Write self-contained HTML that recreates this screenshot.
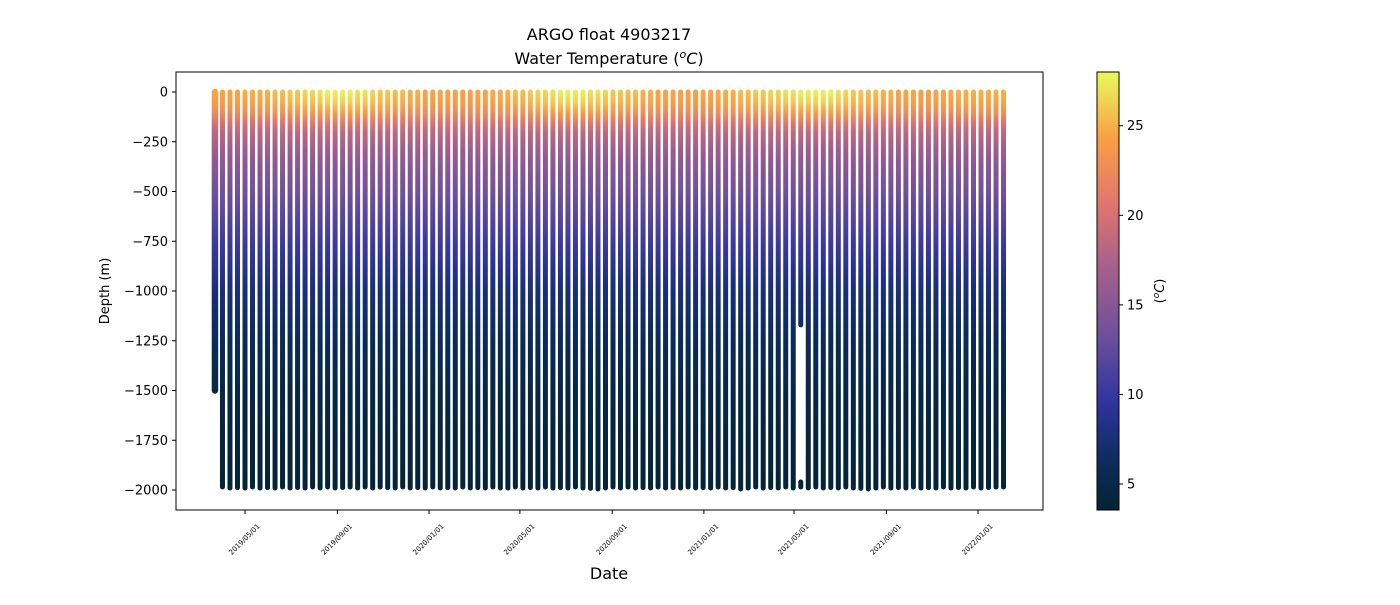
<!DOCTYPE html>
<html><head><meta charset="utf-8"><style>
body{margin:0;background:#fff;}
svg text{font-family:"DejaVu Sans","Liberation Sans",sans-serif;fill:#000;}
</style></head><body>
<svg id="chart" width="1400" height="600" xmlns="http://www.w3.org/2000/svg">
<defs id="defs"></defs>
<rect width="1400" height="600" fill="#fff"/>
<text x="609" y="40" font-size="16" text-anchor="middle">ARGO float 4903217</text>
<text x="609" y="64" font-size="16" text-anchor="middle">Water Temperature (<tspan font-style="italic" font-size="11" dy="-6">o</tspan><tspan font-style="italic" dy="6">C</tspan>)</text>
<g id="profiles"></g>
<rect x="176" y="72" width="867" height="438" fill="none" stroke="#000" stroke-width="1"/>
<g id="yaxis"></g>
<g id="xaxis"></g>
<text transform="translate(109,291) rotate(-90)" font-size="13" text-anchor="middle">Depth (m)</text>
<text x="609" y="579" font-size="16" text-anchor="middle">Date</text>
<rect id="cbar" x="1097" y="72" width="22" height="438" fill="url(#cbgrad)" stroke="#000" stroke-width="1"/>
<g id="cbaxis"></g>
<text transform="translate(1164,291) rotate(-90)" font-size="13" text-anchor="middle">(<tspan font-style="italic" font-size="9" dy="-5">o</tspan><tspan font-style="italic" dy="5">C</tspan>)</text>
</svg>
<script>
// ---- data ----
const startDate = "2019-03-22";
const cycleDays = 10;
const surfaceTemps = [24.5,24.5,24.5,24.5,24.8,25,25,25,25.5,25.5,26,26,26.5,26.5,27,27.5,27.5,27.5,27.5,27,27,26.5,26,26,25.5,25.5,25,25,24.5,24.5,24.5,24.5,24.3,24.3,24.3,24.5,24.5,24.8,25,25,25.5,25.5,26,26.5,26.5,27,27.5,27.5,27.5,27.5,27,27,26.5,26,26,25.5,25.5,25,25,24.5,24.5,24.5,24.3,24.3,24.3,24.5,24.5,24.8,25,25,25.5,25.5,26,26,26.5,26.5,27,27,27.5,27.5,27.5,27.5,27.5,27,26.5,26,26,25.5,25.5,25,25,24.5,24.5,24.5,24.3,24.3,24.5,24.5,24.8,25,25,25,25,25,25,25];
const maxDepths = [1500,1985,1990,1988,1990,1985,1990,1988,1990,1985,1990,1988,1990,1985,1990,1985,1990,1988,1985,1990,1985,1990,1985,1988,1990,1985,1990,1988,1990,1985,1990,1988,1990,1985,1990,1988,1990,1985,1990,1990,1985,1990,1988,1990,1985,1990,1988,1990,1985,1990,1992,1995,1990,1985,1990,1985,1990,1988,1990,1985,1990,1988,1990,1985,1990,1988,1990,1985,1990,1988,1995,1990,1985,1990,1988,1990,1985,1990,1985,1990,1985,1990,1988,1990,1985,1990,1992,1995,1990,1985,1990,1988,1990,1985,1990,1988,1990,1985,1990,1988,1990,1985,1990,1988,1985,1985];
const gapIndex = [78];
const gapTop = [1170];
const gapBottom = [1960];
const shapeDepths = [0,50,100,150,200,300,400,500,600,750,900,1000,1250,1500,1750,2000];
const shapeTemps  = [25,24.5,23,20.5,18.5,16.3,14.8,13.5,12.3,10.4,8.6,7.6,5.9,4.8,4.2,3.8];
const yTicks = [0,-250,-500,-750,-1000,-1250,-1500,-1750,-2000];
const xTickDates = ["2019-05-01","2019-09-01","2020-01-01","2020-05-01","2020-09-01","2021-01-01","2021-05-01","2021-09-01","2022-01-01"];
const cbTicks = [5,10,15,20,25];
// ---- scales ----
const NS="http://www.w3.org/2000/svg";
const day=86400000;
const d0=Date.parse("2019-05-01"), d1=Date.parse("2022-01-01");
const xs=t=>245+(t-d0)/(d1-d0)*733;
const ys=v=>92+(-v)*398/2000;
const tMin=3.55,tMax=28.0;
const cs=t=>510-(t-tMin)/(tMax-tMin)*438;
const cmap=[[0,[4,35,51]],[0.12,[12,45,98]],[0.25,[50,52,160]],[0.4,[110,80,155]],[0.55,[165,95,140]],[0.7,[225,118,108]],[0.85,[249,160,68]],[1,[232,250,91]]];
function color(t){let f=Math.max(0,Math.min(1,(t-tMin)/(tMax-tMin)));for(let i=1;i<cmap.length;i++){if(f<=cmap[i][0]){const a=cmap[i-1],b=cmap[i];const u=(f-a[0])/(b[0]-a[0]);return 'rgb('+a[1].map((c,k)=>Math.round(c+(b[1][k]-c)*u)).join(',')+')';}}return 'rgb(232,250,91)';}
const svg=document.getElementById('chart'),defs=document.getElementById('defs');
function el(n,a,p){const e=document.createElementNS(NS,n);for(const k in a)e.setAttribute(k,a[k]);p.appendChild(e);return e;}
const cg=el('linearGradient',{id:'cbgrad',x1:0,y1:1,x2:0,y2:0},defs);
for(let i=0;i<=20;i++){const t=tMin+(tMax-tMin)*i/20;el('stop',{offset:i/20,'stop-color':color(t)},cg);}
const pg=document.getElementById('profiles');
const t0=Date.parse(startDate);
surfaceTemps.forEach((sT,i)=>{
  const g=el('linearGradient',{id:'pg'+i,gradientUnits:'userSpaceOnUse',x1:0,y1:ys(0),x2:0,y2:ys(-2000)},defs);
  shapeDepths.forEach((d,k)=>{const w=Math.max(0,1-d/220);const t=shapeTemps[k]+(sT-shapeTemps[0])*w;el('stop',{offset:d/2000,'stop-color':color(t)},g);});
  const x=xs(t0+i*cycleDays*day);
  const gi=gapIndex.indexOf(i);
  const segs=gi>=0?[[0,gapTop[gi]],[gapBottom[gi],maxDepths[i]]]:[[0,maxDepths[i]]];
  segs.forEach(s=>{
    const l=el('line',{x1:x,x2:x,y1:ys(-s[0]),y2:ys(-s[1]),stroke:'url(#pg'+i+')','stroke-width':i===0?6.5:5,'stroke-linecap':'round'},pg);
    
    
  });
});
const ya=document.getElementById('yaxis');
yTicks.forEach(v=>{const y=ys(v);el('line',{x1:172,x2:176,y1:y,y2:y,stroke:'#000'},ya);
  const t=el('text',{x:168,y:y+4.5,'font-size':13,'text-anchor':'end'},ya);t.textContent=(v<0?'\u2212'+(-v):v);
  
  });
const xa=document.getElementById('xaxis');
xTickDates.forEach(d=>{const x=xs(Date.parse(d));el('line',{x1:x,x2:x,y1:510,y2:514,stroke:'#000'},xa);
  const t=el('text',{transform:'translate('+(x+1)+',541) rotate(-45)','font-size':7,'text-anchor':'middle'},xa);t.textContent=d.replace(/-/g,'/');
  
  });
const ca=document.getElementById('cbaxis');
cbTicks.forEach(v=>{const y=cs(v);el('line',{x1:1119,x2:1123,y1:y,y2:y,stroke:'#000'},ca);
  const t=el('text',{x:1127,y:y+4.5,'font-size':13},ca);t.textContent=v;
  
  });
</script>
</body></html>
